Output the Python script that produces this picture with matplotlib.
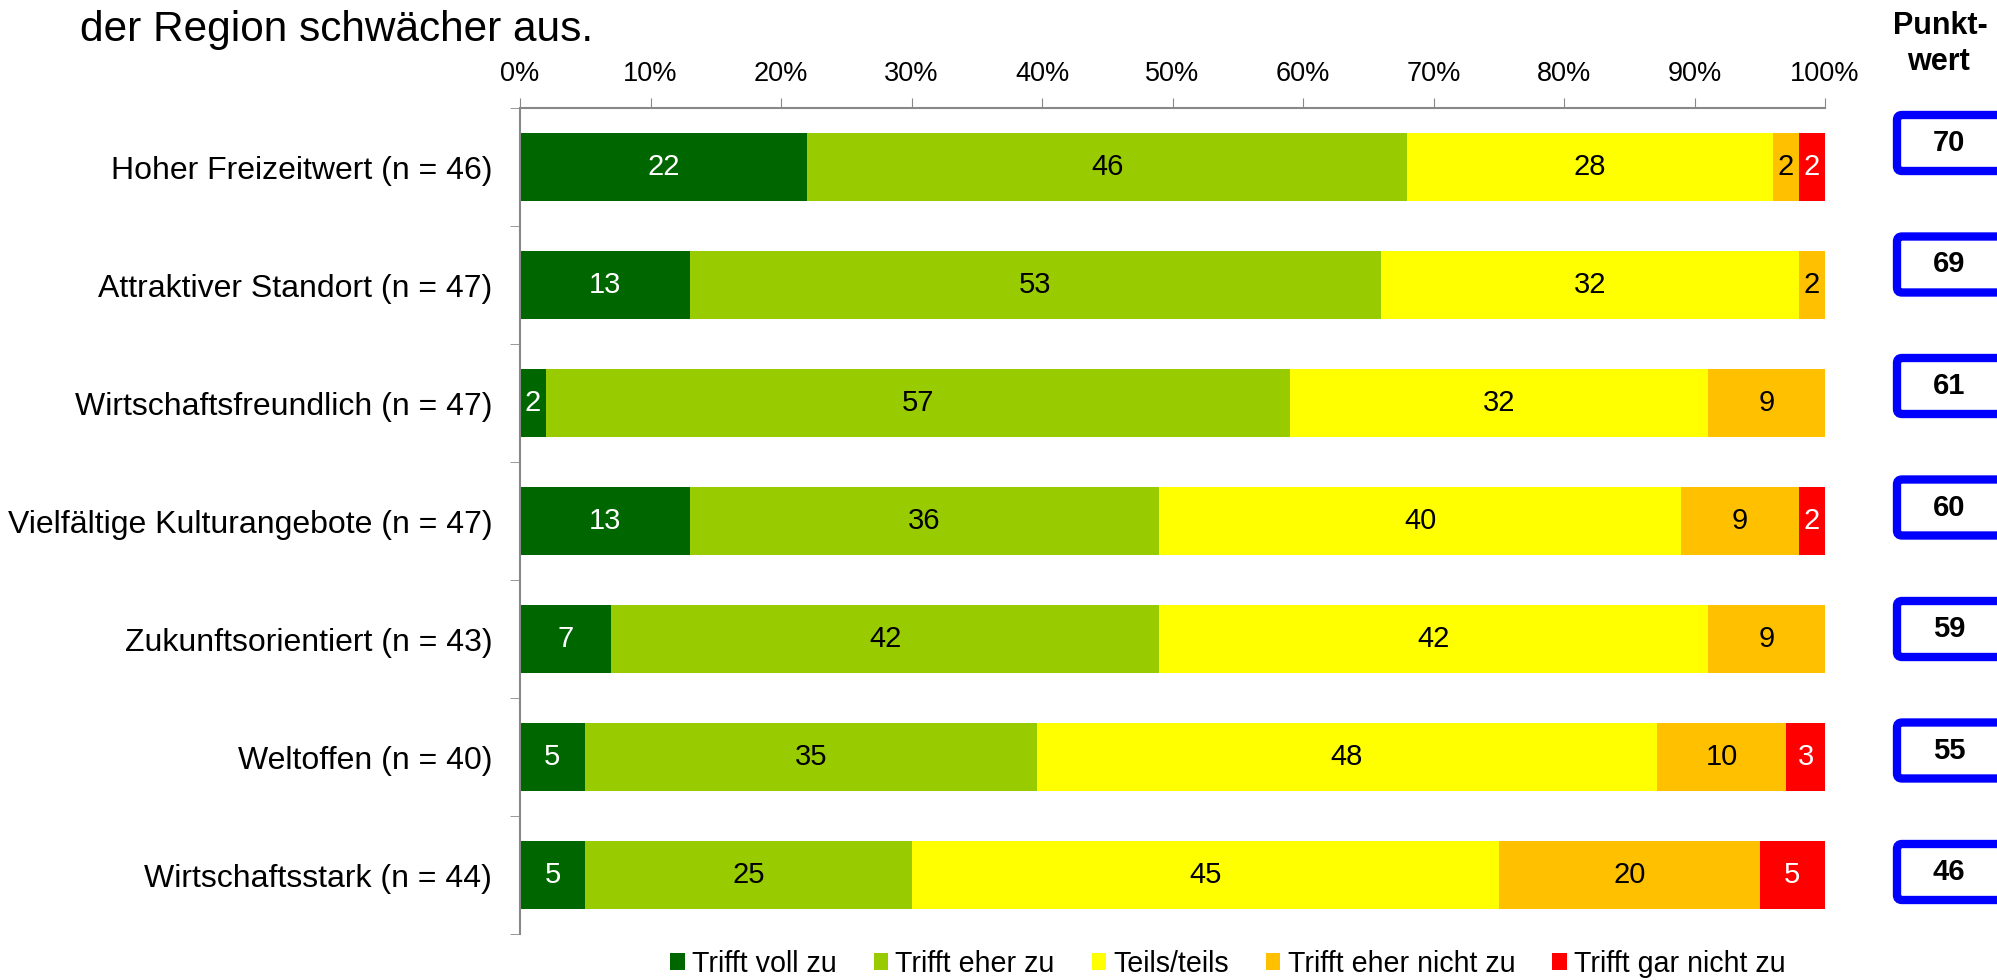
import matplotlib.pyplot as plt
from matplotlib.patches import FancyBboxPatch

plt.rcParams['font.family'] = ['Liberation Sans', 'DejaVu Sans']

categories = [
    "Hoher Freizeitwert (n = 46)",
    "Attraktiver Standort (n = 47)",
    "Wirtschaftsfreundlich (n = 47)",
    "Vielfältige Kulturangebote (n = 47)",
    "Zukunftsorientiert (n = 43)",
    "Weltoffen (n = 40)",
    "Wirtschaftsstark (n = 44)",
]

# answer shares in percent (rounded)
voll = [22, 13, 2, 13, 7, 5, 5]
eher = [46, 53, 57, 36, 42, 35, 25]
teils = [28, 32, 32, 40, 42, 48, 45]
eher_nicht = [2, 2, 9, 9, 9, 10, 20]
gar_nicht = [2, 0, 0, 2, 0, 3, 5]

punktwert = [70, 69, 61, 60, 59, 55, 46]

series = [voll, eher, teils, eher_nicht, gar_nicht]
series_names = ["Trifft voll zu", "Trifft eher zu", "Teils/teils",
                "Trifft eher nicht zu", "Trifft gar nicht zu"]
colors = ["#006600", "#99CC00", "#FFFF00", "#FFC000", "#FF0000"]
label_colors = ["white", "black", "black", "black", "white"]

# 100 % stacked: every row is scaled to its own total
totals = [sum(vals) for vals in zip(*series)]

W, H = 1997, 980
fig = plt.figure(figsize=(W / 100, H / 100), dpi=100)
ax = fig.add_axes([520 / W, 1 - 934 / H, 1305 / W, 826 / H])

rows = list(range(len(categories)))
left = [0.0] * len(categories)
for vals, name, color, tcol in zip(series, series_names, colors, label_colors):
    widths = [v / t * 100 for v, t in zip(vals, totals)]
    ax.barh(rows, widths, left=left, height=0.57, color=color, label=name)
    for r, v, w, l in zip(rows, vals, widths, left):
        if v > 0:
            ax.text(l + w / 2, r, str(v), ha="center", va="center",
                    color=tcol, fontsize=21)
    left = [l + w for l, w in zip(left, widths)]

ax.set_xlim(0, 100)
ax.set_ylim(len(categories) - 0.5, -0.5)

ax.xaxis.tick_top()
ax.set_xticks(range(0, 101, 10))
ax.set_xticklabels([f"{t}%" for t in range(0, 101, 10)], fontsize=19.5)
ax.tick_params(axis="x", length=7, color="#888888", pad=8)

ax.set_yticks(rows)
ax.set_yticklabels(categories, fontsize=23)
ax.set_yticks([r - 0.5 for r in range(len(categories) + 1)], minor=True)
ax.tick_params(axis="y", which="major", length=0, pad=20)
ax.tick_params(axis="y", which="minor", length=7, color="#888888")

for side in ["right", "bottom"]:
    ax.spines[side].set_visible(False)
for side in ["top", "left"]:
    ax.spines[side].set_color("#888888")
    ax.spines[side].set_linewidth(1.5)

ax.legend(loc="center", bbox_to_anchor=(1228 / W, 1 - 964 / H),
          bbox_transform=fig.transFigure, ncol=5, frameon=False,
          fontsize=20.6, handlelength=0.5, handleheight=0.55,
          handletextpad=0.25, columnspacing=1.3, borderaxespad=0)

fig.text(80 / W, 1 - 30 / H, "der Region schwächer aus.", fontsize=30.5,
         ha="left", va="center")

# score boxes on the right
fig.text(1940 / W, 1 - 26 / H, "Punkt-", fontsize=22, fontweight="bold",
         ha="center", va="center")
fig.text(1938 / W, 1 - 62 / H, "wert", fontsize=22, fontweight="bold",
         ha="center", va="center")
for i, val in enumerate(punktwert):
    yc = 143 + i * 121.5
    box = FancyBboxPatch((1897, H - yc - 28), 120, 56,
                         boxstyle="round,pad=0,rounding_size=5",
                         linewidth=6, edgecolor="#0000FF", facecolor="white",
                         transform=None)
    fig.add_artist(box)
    fig.text(1949 / W, 1 - yc / H, str(val), fontsize=21, fontweight="bold",
             ha="center", va="center")

fig.savefig("out.png", dpi=100)
